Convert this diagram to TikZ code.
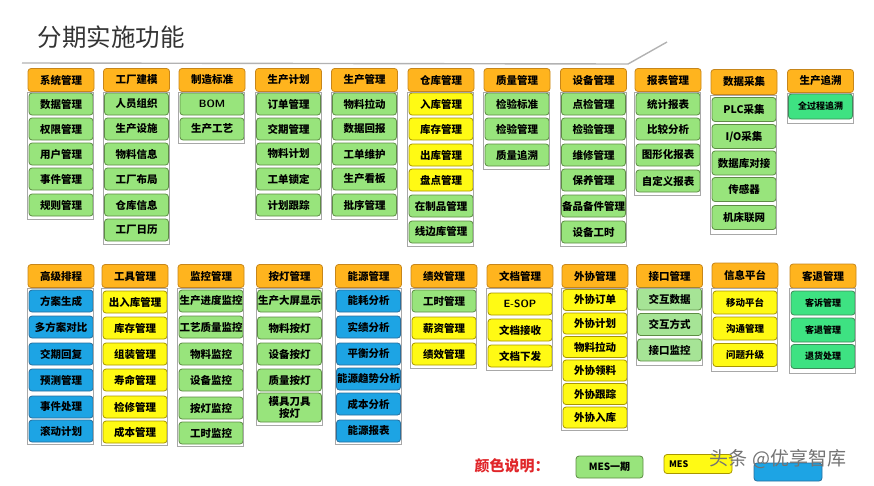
\documentclass[tikz,border=0pt]{standalone}
\usepackage{fontspec}
\newfontfamily\cjk{Noto Sans CJK SC}
\usetikzlibrary{positioning}

\definecolor{hdrfill}{HTML}{FFB41E}
\definecolor{hdrline}{HTML}{C7861A}
\definecolor{grnfill}{HTML}{98E47C}
\definecolor{grnline}{HTML}{5E8C45}
\definecolor{ylwfill}{HTML}{FFFA14}
\definecolor{ylwline}{HTML}{A89600}
\definecolor{blufill}{HTML}{1DA4E4}
\definecolor{bluline}{HTML}{2A6E9C}
\definecolor{mntfill}{HTML}{3EE282}
\definecolor{mntline}{HTML}{3E8A5A}
\definecolor{lgtfill}{HTML}{A6E496}
\definecolor{frameline}{HTML}{A8A8A8}
\definecolor{legendred}{HTML}{E0262A}

\tikzset{
  box/.style={draw,rounded corners=3pt,line width=0.8pt,minimum width=64,
    minimum height=22,inner sep=0pt,align=center,
    font=\cjk\bfseries\fontsize{10.5}{11}\selectfont},
  hdr/.style={box,fill=hdrfill,draw=hdrline,minimum width=66,minimum height=23},
  grn/.style={box,fill=grnfill,draw=grnline},
  ylw/.style={box,fill=ylwfill,draw=ylwline},
  blu/.style={box,fill=blufill,draw=bluline},
  mnt/.style={box,fill=mntfill,draw=mntline,font=\cjk\bfseries\fontsize{9}{10}\selectfont},
  lgt/.style={box,fill=lgtfill,draw=grnline},
  frm/.style={draw=frameline,line width=0.6pt},
}

\begin{document}
\begin{tikzpicture}[x=1pt,y=-1pt]
\useasboundingbox (0,0) rectangle (874,485);
%%
\node (title) at (111,37) [font=\cjk\fontsize{24.5}{26}\selectfont,text=black!80] {分期实施功能};
\coordinate (rule_0) at (22,63);
\coordinate (rule_1) at (628,64);
\coordinate (rule_2) at (667,42);
\draw [black!30,line width=1.4pt] (rule_0) -- (rule_1) -- (rule_2);
%% top row
\node (top_1_0) at (61,80) [hdr] {系统管理};
  \node (top_1_1) at (61,104) [grn] {数据管理};
  \node (top_1_2) at (61,129) [grn] {权限管理};
  \node (top_1_3) at (61,154) [grn] {用户管理};
  \node (top_1_4) at (61,179) [grn] {事件管理};
  \node (top_1_5) at (61,205) [grn] {规则管理};
\node (top_2_0) at (136.5,80) [hdr] {工厂建模};
  \node (top_2_1) at (136.5,104) [grn] {人员组织};
  \node (top_2_2) at (136.5,129) [grn] {生产设施};
  \node (top_2_3) at (136.5,154) [grn] {物料信息};
  \node (top_2_4) at (136.5,179) [grn] {工厂布局};
  \node (top_2_5) at (136.5,205) [grn] {仓库信息};
  \node (top_2_6) at (136.5,230) [grn] {工厂日历};
\node (top_3_0) at (212,80) [hdr] {制造标准};
  \node (top_3_1) at (212,104) [grn,font=\sffamily\bfseries\fontsize{10.5}{11}\selectfont] {BOM};
  \node (top_3_2) at (212,129) [grn] {生产工艺};
\node (top_4_0) at (288.5,80) [hdr] {生产计划};
  \node (top_4_1) at (288.5,104) [grn] {订单管理};
  \node (top_4_2) at (288.5,129) [grn] {交期管理};
  \node (top_4_3) at (288.5,154) [grn] {物料计划};
  \node (top_4_4) at (288.5,179) [grn] {工单锁定};
  \node (top_4_5) at (288.5,205) [grn] {计划跟踪};
\node (top_5_0) at (364.5,80) [hdr] {生产管理};
  \node (top_5_1) at (364.5,104) [grn] {物料拉动};
  \node (top_5_2) at (364.5,129) [grn] {数据回报};
  \node (top_5_3) at (364.5,154) [grn] {工单维护};
  \node (top_5_4) at (364.5,179) [grn] {生产看板};
  \node (top_5_5) at (364.5,205) [grn] {批序管理};
\node (top_6_0) at (441,80) [hdr] {仓库管理};
  \node (top_6_1) at (441,104) [ylw] {入库管理};
  \node (top_6_2) at (441,129) [ylw] {库存管理};
  \node (top_6_3) at (441,155) [ylw] {出库管理};
  \node (top_6_4) at (441,180) [ylw] {盘点管理};
  \node (top_6_5) at (441,206) [grn] {在制品管理};
  \node (top_6_6) at (441,232) [grn] {线边库管理};
\node (top_7_0) at (517,80) [hdr] {质量管理};
  \node (top_7_1) at (517,104) [grn] {检验标准};
  \node (top_7_2) at (517,129) [grn] {检验管理};
  \node (top_7_3) at (517,155) [grn] {质量追溯};
\node (top_8_0) at (593.5,80) [hdr] {设备管理};
  \node (top_8_1) at (593.5,104) [grn] {点检管理};
  \node (top_8_2) at (593.5,129) [grn] {检验管理};
  \node (top_8_3) at (593.5,155) [grn] {维修管理};
  \node (top_8_4) at (593.5,180) [grn] {保养管理};
  \node (top_8_5) at (593.5,206) [grn] {备品备件管理};
  \node (top_8_6) at (593.5,232) [grn] {设备工时};
\node (top_9_0) at (668,80) [hdr] {报表管理};
  \node (top_9_1) at (668,104) [grn] {统计报表};
  \node (top_9_2) at (668,129) [grn] {比较分析};
  \node (top_9_3) at (668,155) [grn] {图形化报表};
  \node (top_9_4) at (668,181) [grn] {自定义报表};
\node (top_10_0) at (744,82) [hdr,minimum height=25] {数据采集};
  \node (top_10_1) at (744,109.5) [grn,minimum height=24,font=\cjk\bfseries\fontsize{10.5}{11}\selectfont] {PLC采集};
  \node (top_10_2) at (744,136.5) [grn,minimum height=24] {I/O采集};
  \node (top_10_3) at (744,163) [grn,minimum height=24] {数据库对接};
  \node (top_10_4) at (744,189.5) [grn,minimum height=24] {传感器};
  \node (top_10_5) at (744,217.5) [grn,minimum height=24] {机床联网};
\node (top_11_0) at (820.5,81) [hdr] {生产追溯};
  \node (top_11_1) at (820.5,106.5) [mnt,minimum height=25] {全过程追溯};
%% bottom row
\node (bot_1_0) at (61,276) [hdr] {高级排程};
  \node (bot_1_1) at (61,301) [blu] {方案生成};
  \node (bot_1_2) at (61,327) [blu] {多方案对比};
  \node (bot_1_3) at (61,354) [blu] {交期回复};
  \node (bot_1_4) at (61,380) [blu] {预测管理};
  \node (bot_1_5) at (61,407) [blu] {事件处理};
  \node (bot_1_6) at (61,431) [blu] {滚动计划};
\node (bot_2_0) at (135,276) [hdr] {工具管理};
  \node (bot_2_1) at (135,302) [ylw] {出入库管理};
  \node (bot_2_2) at (135,328) [ylw] {库存管理};
  \node (bot_2_3) at (135,354) [ylw] {组装管理};
  \node (bot_2_4) at (135,380) [ylw] {寿命管理};
  \node (bot_2_5) at (135,407) [ylw] {检修管理};
  \node (bot_2_6) at (135,432) [ylw] {成本管理};
\node (bot_3_0) at (211,276) [hdr] {监控管理};
  \node (bot_3_1) at (211,301) [grn] {生产进度监控};
  \node (bot_3_2) at (211,327) [grn] {工艺质量监控};
  \node (bot_3_3) at (211,354) [grn] {物料监控};
  \node (bot_3_4) at (211,380) [grn] {设备监控};
  \node (bot_3_5) at (211,408) [grn] {按灯监控};
  \node (bot_3_6) at (211,433) [grn] {工时监控};
\node (bot_4_0) at (289.5,276) [hdr] {按灯管理};
  \node (bot_4_1) at (289.5,301) [grn] {生产大屏显示};
  \node (bot_4_2) at (289.5,328) [grn] {物料按灯};
  \node (bot_4_3) at (289.5,354) [grn] {设备按灯};
  \node (bot_4_4) at (289.5,380) [grn] {质量按灯};
  \node (bot_4_5) at (289.5,407.5) [grn,minimum height=29,font=\cjk\bfseries\fontsize{10.5}{12}\selectfont] {模具刀具\\按灯};
\node (bot_5_0) at (368.5,276) [hdr] {能源管理};
  \node (bot_5_1) at (368.5,301) [blu] {能耗分析};
  \node (bot_5_2) at (368.5,327) [blu] {实绩分析};
  \node (bot_5_3) at (368.5,354) [blu] {平衡分析};
  \node (bot_5_4) at (368.5,379) [blu] {能源趋势分析};
  \node (bot_5_5) at (368.5,404) [blu] {成本分析};
  \node (bot_5_6) at (368.5,431) [blu] {能源报表};
\node (bot_6_0) at (444,276) [hdr] {绩效管理};
  \node (bot_6_1) at (444,301) [grn] {工时管理};
  \node (bot_6_2) at (444,328) [ylw] {薪资管理};
  \node (bot_6_3) at (444,354) [ylw] {绩效管理};
\node (bot_7_0) at (520,276) [hdr] {文档管理};
  \node (bot_7_1) at (520,304) [ylw,font=\sffamily\bfseries\fontsize{10.5}{11}\selectfont] {E-SOP};
  \node (bot_7_2) at (520,330) [ylw] {文档接收};
  \node (bot_7_3) at (520,356) [ylw] {文档下发};
\node (bot_8_0) at (595,276) [hdr] {外协管理};
  \node (bot_8_1) at (595,300) [ylw,minimum height=21] {外协订单};
  \node (bot_8_2) at (595,323.5) [ylw,minimum height=21] {外协计划};
  \node (bot_8_3) at (595,347) [ylw,minimum height=21] {物料拉动};
  \node (bot_8_4) at (595,370.5) [ylw,minimum height=21] {外协领料};
  \node (bot_8_5) at (595,394) [ylw,minimum height=21] {外协跟踪};
  \node (bot_8_6) at (595,417.5) [ylw,minimum height=21] {外协入库};
\node (bot_9_0) at (669.5,276) [hdr] {接口管理};
  \node (bot_9_1) at (669.5,299) [lgt] {交互数据};
  \node (bot_9_2) at (669.5,324.5) [lgt] {交互方式};
  \node (bot_9_3) at (669.5,350) [lgt] {接口监控};
\node (bot_10_0) at (745,275.5) [hdr,minimum height=25] {信息平台};
  \node (bot_10_1) at (745,302.5) [ylw,minimum height=23,font=\cjk\bfseries\fontsize{9.5}{10}\selectfont] {移动平台};
  \node (bot_10_2) at (745,328.5) [ylw,minimum height=23,font=\cjk\bfseries\fontsize{9.5}{10}\selectfont] {沟通管理};
  \node (bot_10_3) at (745,355) [ylw,minimum height=23,font=\cjk\bfseries\fontsize{9.5}{10}\selectfont] {问题升级};
\node (bot_11_0) at (823,276) [hdr,minimum height=24] {客退管理};
  \node (bot_11_1) at (823,303) [mnt,minimum height=24] {客诉管理};
  \node (bot_11_2) at (823,330) [mnt,minimum height=24] {客退管理};
  \node (bot_11_3) at (823,356.5) [mnt,minimum height=24] {退货处理};
%% column frames
\draw [frm] (top_1_0.south west) rectangle ([yshift=-3pt]top_1_5.south east);
\draw [frm] (top_2_0.south west) rectangle ([yshift=-3pt]top_2_6.south east);
\draw [frm] (top_3_0.south west) rectangle ([yshift=-3pt]top_3_2.south east);
\draw [frm] (top_4_0.south west) rectangle ([yshift=-3pt]top_4_5.south east);
\draw [frm] (top_5_0.south west) rectangle ([yshift=-3pt]top_5_5.south east);
\draw [frm] (top_6_0.south west) rectangle ([yshift=-3pt]top_6_6.south east);
\draw [frm] (top_7_0.south west) rectangle ([yshift=-3pt]top_7_3.south east);
\draw [frm] (top_8_0.south west) rectangle ([yshift=-3pt]top_8_6.south east);
\draw [frm] (top_9_0.south west) rectangle ([yshift=-3pt]top_9_4.south east);
\draw [frm] (top_10_0.south west) rectangle ([yshift=-4pt]top_10_5.south east);
\draw [frm] (top_11_0.south west) rectangle ([yshift=-4pt]top_11_1.south east);
\draw [frm] (bot_1_0.south west) rectangle ([yshift=-2pt]bot_1_6.south east);
\draw [frm] (bot_2_0.south west) rectangle ([yshift=-2pt]bot_2_6.south east);
\draw [frm] (bot_3_0.south west) rectangle ([yshift=-2pt]bot_3_6.south east);
\draw [frm] (bot_4_0.south west) rectangle ([yshift=-3pt]bot_4_5.south east);
\draw [frm] (bot_5_0.south west) rectangle ([yshift=-2pt]bot_5_6.south east);
\draw [frm] (bot_6_0.south west) rectangle ([yshift=-3pt]bot_6_3.south east);
\draw [frm] (bot_7_0.south west) rectangle ([yshift=-3pt]bot_7_3.south east);
\draw [frm] (bot_8_0.south west) rectangle ([yshift=-2pt]bot_8_6.south east);
\draw [frm] (bot_9_0.south west) rectangle ([yshift=-4pt]bot_9_3.south east);
\draw [frm] (bot_10_0.south west) rectangle ([yshift=-4pt]bot_10_3.south east);
\draw [frm] (bot_11_0.south west) rectangle ([yshift=-4pt]bot_11_3.south east);
%% legend
\node (key_label) at (512,466) [font=\cjk\bfseries\fontsize{15}{16}\selectfont,text=legendred] {颜色说明：};
\node (key_1) at (609.5,467) [grn,minimum width=67,font=\cjk\bfseries\fontsize{10}{11}\selectfont] {MES一期};
\node (key_2) at (698,464) [ylw,minimum width=68,minimum height=19,font=\cjk\bfseries\fontsize{9}{10}\selectfont,text width=58,align=left] {MES};
\node (key_3) at (788,472) [blu,minimum width=68,minimum height=18] {};
\node (mark) at (778,459) [font=\cjk\fontsize{19}{20}\selectfont,text=black!55] {头条 @优享智库};
%
\end{tikzpicture}
\end{document}
